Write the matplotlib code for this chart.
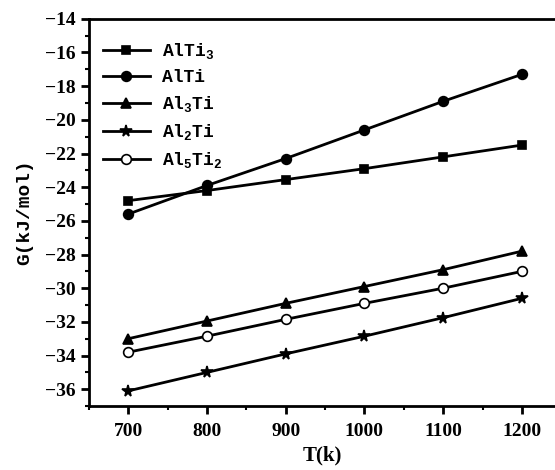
import numpy as np
import matplotlib.pyplot as plt
from matplotlib.ticker import MultipleLocator

# temperatures (K)
T = [700, 800, 900, 1000, 1100, 1200]

# Gibbs energy (kJ/mol)
G_AlTi3 = [-24.8, -24.2, -23.55, -22.9, -22.2, -21.5]
G_AlTi = [-25.6, -23.9, -22.3, -20.6, -18.9, -17.3]
G_Al3Ti = [-33.0, -31.95, -30.9, -29.9, -28.9, -27.8]
G_Al2Ti = [-36.1, -35.0, -33.9, -32.85, -31.75, -30.6]
G_Al5Ti2 = [-33.8, -32.85, -31.85, -30.9, -30.0, -29.0]

names = [r'AlTi$_3$', 'AlTi', r'Al$_3$Ti', r'Al$_2$Ti', r'Al$_5$Ti$_2$']
series = [G_AlTi3, G_AlTi, G_Al3Ti, G_Al2Ti, G_Al5Ti2]
markers = ['s', 'o', '^', '*', 'o']
faces = ['k', 'k', 'k', 'k', 'w']
sizes = [6, 7, 7, 8.5, 7]

plt.rcParams['mathtext.fontset'] = 'custom'
plt.rcParams['mathtext.rm'] = 'Liberation Mono:bold'

fig = plt.figure(figsize=(5.55, 4.7), dpi=100)
ax = fig.add_axes([0.16, 0.136, 0.84, 0.824])

for g, lab, m, fc, ms in zip(series, names, markers, faces, sizes):
    ax.plot(T, g, '-', color='k', lw=2, marker=m, ms=ms, mfc=fc, mec='k',
            mew=1.2, label=lab)

ax.set_xlim(650, 1242)
ax.set_ylim(-37, -14)
ax.xaxis.set_major_locator(MultipleLocator(100))
ax.xaxis.set_minor_locator(MultipleLocator(50))
ax.yaxis.set_major_locator(MultipleLocator(2))
ax.yaxis.set_minor_locator(MultipleLocator(1))
ax.tick_params(which='major', direction='out', length=6, width=2)
ax.tick_params(which='minor', direction='out', length=3, width=1.5)
ax.tick_params(axis='x', pad=6)
ax.tick_params(top=False, right=False)
for lbl in ax.get_xticklabels() + ax.get_yticklabels():
    lbl.set_fontfamily('Liberation Serif')
    lbl.set_fontweight('bold')
    lbl.set_fontsize(14)

for s in ['left', 'bottom', 'top']:
    ax.spines[s].set_linewidth(2)
ax.spines['right'].set_visible(False)

ax.set_xlabel('T(k)', fontsize=15, fontfamily='Liberation Serif',
              fontweight='bold', labelpad=4)
ax.set_ylabel('G(kJ/mol)', fontsize=14, fontfamily='Liberation Mono',
              fontweight='bold', labelpad=8)

leg = ax.legend(loc='upper left', frameon=False, handlelength=2.6,
                handletextpad=0.7, labelspacing=0.45,
                bbox_to_anchor=(-0.005, 0.985),
                prop={'family': 'Liberation Mono', 'weight': 'bold', 'size': 13})

fig.savefig('out.png', dpi=100)
